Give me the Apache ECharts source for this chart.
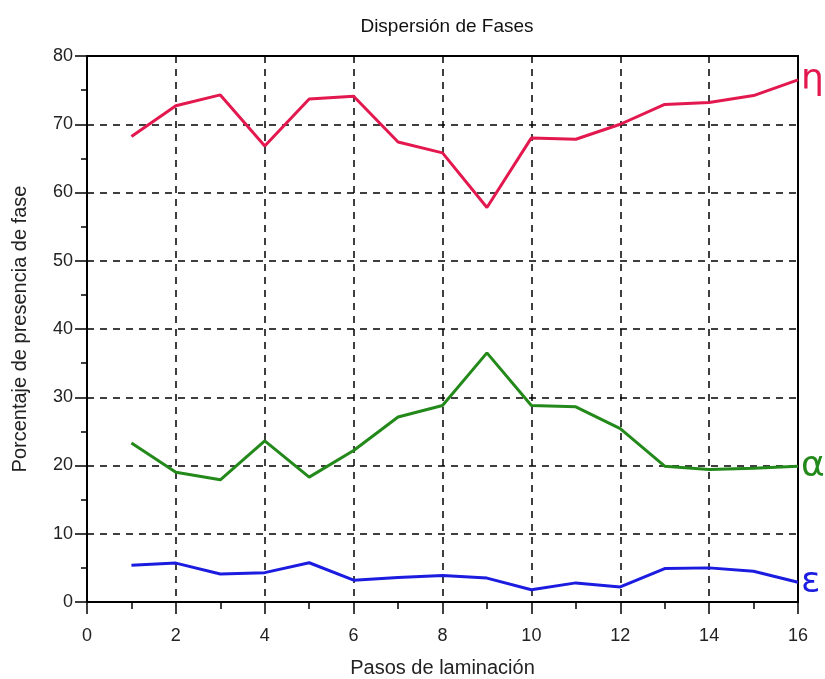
<!DOCTYPE html>
<html>
<head>
<meta charset="utf-8">
<script src="https://cdn.jsdelivr.net/npm/echarts@6/dist/echarts.min.js"></script>
<style>html,body{margin:0;padding:0;background:#fff}#c{width:825px;height:679px}</style>
</head>
<body>
<div id="c"></div>
<script>
const steps = [1,2,3,4,5,6,7,8,9,10,11,12,13,14,15,16];
const eta = [68.2,72.7,74.3,66.8,73.7,74.1,67.4,65.8,57.8,68.0,67.8,70.0,72.9,73.2,74.2,76.5];
const alpha = [23.3,19.0,17.9,23.6,18.3,22.2,27.1,28.8,36.5,28.8,28.6,25.4,19.9,19.4,19.6,19.9];
const epsilon = [5.4,5.7,4.1,4.3,5.75,3.2,3.6,3.9,3.5,1.8,2.8,2.2,4.9,5.0,4.5,2.9];
const seriesNames = ['η','α','ε'];
const seriesColors = ['#e2184e','#23891a','#1c1ce0'];
const xTicks = {min:0,max:16,interval:2};
const yTicks = {min:0,max:80,interval:10};

const font = '"Liberation Sans", Arial, sans-serif';
function pairs(arr){ return steps.map((s,i)=>[s,arr[i]]); }
const chart = echarts.init(document.getElementById('c'), null, {renderer:'canvas'});
const mk = (name, data, color) => ({
  name, type:'line', data: pairs(data), symbol:'none', smooth:false,
  lineStyle:{color, width:3}, itemStyle:{color},
  endLabel:{show:true, formatter:name, color, fontSize:36, fontFamily:'"DejaVu Sans", sans-serif', distance:3},
  z:3
});
chart.setOption({
  animation:false,
  title:{text:'Dispersión de Fases', left:442, top:12, textAlign:'center',
    textStyle:{fontSize:19, fontWeight:'normal', color:'#111', fontFamily:font}},
  grid:{left:87, right:27, top:56, bottom:77, show:true, borderColor:'#000', borderWidth:2, backgroundColor:'transparent', outerBoundsMode:'none', containLabel:false},
  xAxis:{type:'value', min:xTicks.min, max:xTicks.max, interval:xTicks.interval,
    name:'Pasos de laminación', nameLocation:'middle', nameGap:56,
    nameTextStyle:{fontSize:20, color:'#222', fontFamily:font},
    axisLine:{show:true, onZero:false, lineStyle:{color:'#000', width:2}},
    axisTick:{show:true, length:12, lineStyle:{color:'#000', width:1.5}},
    minorTick:{show:true, splitNumber:2, length:7, lineStyle:{color:'#000', width:1.5}},
    axisLabel:{fontSize:18, color:'#222', fontFamily:font, margin:25},
    splitLine:{show:true, lineStyle:{color:'#000', type:[7,6], width:1.5}}},
  yAxis:{type:'value', min:yTicks.min, max:yTicks.max, interval:yTicks.interval,
    name:'Porcentaje de presencia de fase', nameLocation:'middle', nameGap:57,
    nameTextStyle:{fontSize:20, color:'#222', fontFamily:font},
    axisLine:{show:true, onZero:false, lineStyle:{color:'#000', width:2}},
    axisTick:{show:true, length:12, lineStyle:{color:'#000', width:1.5}},
    minorTick:{show:true, splitNumber:2, length:6, lineStyle:{color:'#000', width:1.5}},
    axisLabel:{fontSize:18, color:'#222', fontFamily:font, margin:14},
    splitLine:{show:true, lineStyle:{color:'#000', type:[7,6], width:1.5}}},
  series:[mk(seriesNames[0], eta, seriesColors[0]), mk(seriesNames[1], alpha, seriesColors[1]), mk(seriesNames[2], epsilon, seriesColors[2])]
});
</script>
</body>
</html>
